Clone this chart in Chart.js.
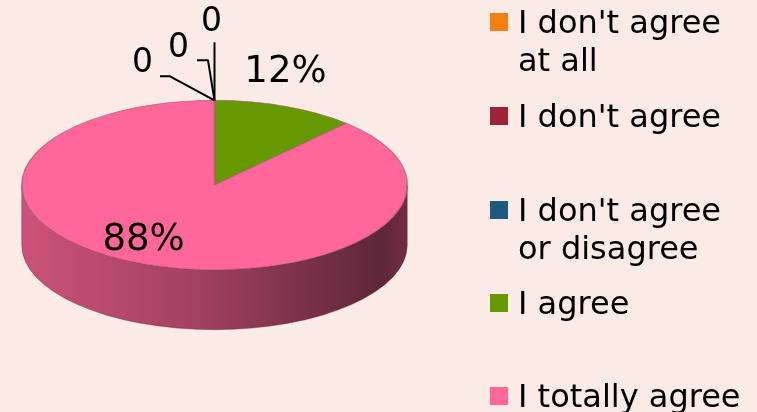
<!DOCTYPE html>
<html>
<head>
<meta charset="utf-8">
<script src="https://cdn.jsdelivr.net/npm/chart.js@4/dist/chart.umd.min.js"></script>
<style>
  html, body { margin: 0; padding: 0; background: #fbebe7; }
  #wrap { position: relative; width: 757px; height: 412px; overflow: hidden; }
  #pie { position: absolute; left: 0; top: 0; }
  .lg { position: absolute; left: 490px; font: 32px "DejaVu Sans", Verdana, sans-serif; line-height: 38px; color: #000; }
  .lg i { position: absolute; left: 0; top: 10px; width: 18px; height: 18px; }
  .lg span { display: block; margin-left: 28px; width: 232px; }
</style>
</head>
<body>
<div id="wrap">
  <canvas id="pie" width="757" height="412"></canvas>
</div>
<script>
// ── DATA ─────────────────────────────────────
const labels = ["I don't agree at all", "I don't agree", "I don't agree or disagree", "I agree", "I totally agree"];
const values = [0, 0, 0, 12, 88];
const colors = ['#f4800f', '#9d2538', '#1f5a7c', '#669900', '#ff6699'];

// ── LAYOUT (3D look) ─────────────────────────
const TILT = 85 / 193.5;     // vertical squash of the top face
const DEPTH = 60;            // height of the side wall
const TOP_Y = 185;           // centre of the top face on screen
const LEGEND_TOPS = [3, 97, 191, 284, 377];
// leader lines for the zero labels, relative to where the slice sits
const ZERO_LABELS = [
  { dx: -72, dy: -37, line: [[-44.5, -24], [-54.5, -24]] },
  { dx: -36, dy: -52, line: [[-6.5, -40], [-17.5, -40]] },
  { dx: -3,  dy: -78, line: [[0, -58]] }
];

function shade(hex, f) {
  const n = parseInt(hex.slice(1), 16);
  const r = Math.round(((n >> 16) & 255) * f), g = Math.round(((n >> 8) & 255) * f), b = Math.round((n & 255) * f);
  return `rgb(${r},${g},${b})`;
}

const pie3d = {
  id: 'pie3d',
  beforeDatasetsDraw(chart) {
    const c = chart.ctx;
    const arcs = chart.getDatasetMeta(0).data;
    const cx = arcs[0].x, cy = arcs[0].y, rx = arcs[0].outerRadius, ry = rx * TILT;
    c.save();
    // side wall: only the front half (0..PI) is visible
    arcs.forEach((a, i) => {
      [[0, Math.PI], [2 * Math.PI, 3 * Math.PI]].forEach(([lo, hi]) => {
        const a0 = Math.max(a.startAngle, lo), a1 = Math.min(a.endAngle, hi);
        if (a1 <= a0) return;
        const g = c.createLinearGradient(cx - rx, 0, cx + rx, 0);
        g.addColorStop(0, shade(colors[i], 0.8));
        g.addColorStop(0.45, shade(colors[i], 0.64));
        g.addColorStop(0.93, shade(colors[i], 0.37));
        g.addColorStop(1, shade(colors[i], 0.44));
        c.beginPath();
        c.ellipse(cx, TOP_Y, rx, ry, 0, a0, a1, false);
        c.ellipse(cx, TOP_Y + DEPTH, rx, ry, 0, a1, a0, true);
        c.closePath();
        c.fillStyle = g;
        c.fill();
        c.strokeStyle = 'rgba(90,30,50,0.35)';
        c.lineWidth = 1;
        c.stroke();
      });
    });
    // squash the top face
    c.translate(cx, TOP_Y);
    c.scale(1, TILT);
    c.translate(-cx, -cy);
  },
  afterDatasetsDraw(chart) {
    chart.ctx.restore();
  },
  afterDraw(chart) {
    const c = chart.ctx;
    const arcs = chart.getDatasetMeta(0).data;
    const total = values.reduce((s, v) => s + v, 0);
    const cx = arcs[0].x, rx = arcs[0].outerRadius, ry = rx * TILT;
    c.save();
    c.fillStyle = '#000';
    c.strokeStyle = '#000';
    c.lineWidth = 2;
    c.lineJoin = 'round';
    c.textAlign = 'center';
    c.textBaseline = 'middle';
    let z = 0;
    arcs.forEach((a, i) => {
      const v = values[i];
      if (v === 0) {
        const tx = cx + rx * Math.cos(a.startAngle), ty = TOP_Y + ry * Math.sin(a.startAngle);
        const L = ZERO_LABELS[z++];
        c.beginPath();
        c.moveTo(tx, ty);
        L.line.forEach(([dx, dy]) => c.lineTo(tx + dx, ty + dy));
        c.stroke();
        c.font = '33px "DejaVu Sans", Verdana, sans-serif';
        c.fillText('0', tx + L.dx, ty + L.dy);
        return;
      }
      const mid = (a.startAngle + a.endAngle) / 2;
      const k = v / total < 0.25 ? 1.43 : 0.7;
      c.font = '37px "DejaVu Sans", Verdana, sans-serif';
      c.fillText(v + '%', cx + rx * Math.cos(mid), TOP_Y + ry * Math.sin(mid) * k);
    });
    c.restore();
  }
};

const chart = new Chart(document.getElementById('pie'), {
  type: 'pie',
  data: {
    labels,
    datasets: [{
      data: values,
      backgroundColor: colors,
      borderColor: 'rgba(170,90,115,0.7)',
      borderWidth: values.map(v => v ? 1.5 : 0)
    }]
  },
  options: {
    responsive: false,
    animation: false,
    devicePixelRatio: 1,
    layout: { padding: { left: 21, right: 349, top: 12, bottom: 13 } },
    plugins: { legend: { display: false }, tooltip: { enabled: false } },
    events: []
  },
  plugins: [pie3d]
});

// ── LEGEND ───────────────────────────────────
const wrap = document.getElementById('wrap');
chart.data.labels.forEach((t, i) => {
  const d = document.createElement('div');
  d.className = 'lg';
  d.style.top = LEGEND_TOPS[i] + 'px';
  d.innerHTML = `<i style="background:${colors[i]}"></i><span></span>`;
  d.querySelector('span').textContent = t;
  wrap.appendChild(d);
});
</script>
</body>
</html>
